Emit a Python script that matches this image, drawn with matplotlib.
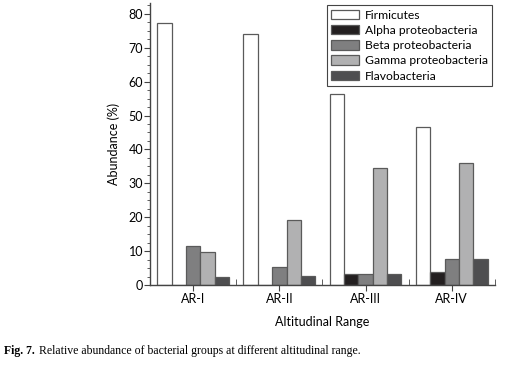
import matplotlib
matplotlib.use('Agg')
import matplotlib.pyplot as plt
import numpy as np

ranges = ['AR-I', 'AR-II', 'AR-III', 'AR-IV']
groups = ['Firmicutes', 'Alpha proteobacteria', 'Beta proteobacteria',
          'Gamma proteobacteria', 'Flavobacteria']
firmicutes = [77.4, 74.0, 56.3, 46.6]
alpha = [0.0, 0.0, 3.2, 3.9]
beta = [11.6, 5.2, 3.2, 7.6]
gamma = [9.7, 19.3, 34.4, 35.9]
flavo = [2.3, 2.7, 3.2, 7.6]

colors = ['#ffffff', '#231f20', '#7f7f80', '#b1b1b2', '#4e4e50']

plt.rcParams['font.family'] = ['Lato', 'DejaVu Sans']
plt.rcParams['font.size'] = 9

fig = plt.figure(figsize=(5.05, 3.68), dpi=100)
ax = fig.add_axes([0.297, 0.2255, 0.683, 0.7665])

x = np.arange(len(ranges))
w = 1 / 6
series = [firmicutes, alpha, beta, gamma, flavo]
for i, (vals, name, c) in enumerate(zip(series, groups, colors)):
    ax.bar(x + (i - 2) * w, vals, w, color=c, edgecolor='#5a5a5a',
           linewidth=0.9, label=name)

ax.set_xlim(-0.5, 3.5)
ax.set_ylim(0, 83.2)
ax.spines['top'].set_visible(False)
ax.spines['right'].set_visible(False)
for s in ['left', 'bottom']:
    ax.spines[s].set_color('#444444')
    ax.spines[s].set_linewidth(1.0)

ax.set_xticks(x)
ax.set_xticklabels(ranges)
ax.set_xticks(np.arange(-0.5, 3.6, 1), minor=True)
ax.tick_params(axis='x', which='major', direction='out', length=4, color='#444444', pad=2)
ax.tick_params(axis='x', which='minor', direction='in', length=4, color='#444444')
ax.set_yticks(np.arange(0, 81, 10))
ax.set_yticks(np.arange(0, 83, 2.5), minor=True)
ax.tick_params(axis='y', which='major', direction='out', length=4, color='#444444', pad=1)
ax.tick_params(axis='y', which='minor', direction='out', length=2, color='#444444')

ax.set_ylabel('Abundance (%)', labelpad=6)
ax.set_xlabel('Altitudinal Range', labelpad=8)

leg = ax.legend(loc='upper right', bbox_to_anchor=(1.0, 1.0), fancybox=False,
                edgecolor='#444444', framealpha=1, borderpad=0.35,
                borderaxespad=0.2, labelspacing=0.35, handlelength=2.3,
                handleheight=0.85, handletextpad=0.5, fontsize=8.7)
leg.get_frame().set_linewidth(0.8)

fig.text(0.008, 0.038, 'Fig. 7.', fontfamily='Liberation Serif', fontweight='bold',
         fontsize=8.5)
fig.text(0.078, 0.038, 'Relative abundance of bacterial groups at different altitudinal range.',
         fontfamily='Liberation Serif', fontsize=8.5)

fig.savefig('out.png', dpi=100)
